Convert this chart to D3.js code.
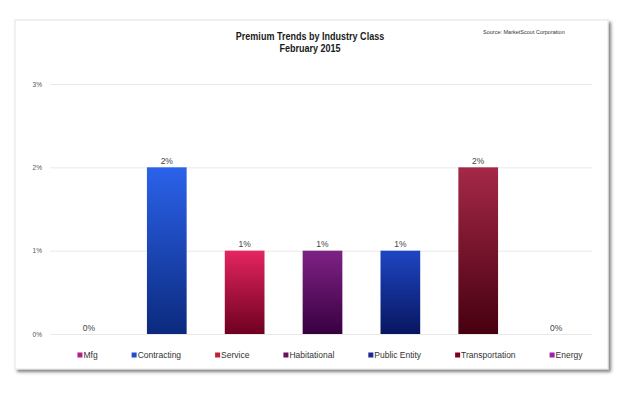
<!DOCTYPE html>
<html>
<head>
<meta charset="utf-8">
<script src="https://cdn.jsdelivr.net/npm/d3@7"></script>
<style>
  body { margin: 0; background: #fff; }
  svg { display: block; }
</style>
</head>
<body>
<script>
// Data
var categories = ["Mfg", "Contracting", "Service", "Habitational", "Public Entity", "Transportation", "Energy"];
var values = [0, 2, 1, 1, 1, 2, 0];
var valueLabels = ["0%", "2%", "1%", "1%", "1%", "2%", "0%"];
var yTicks = [0, 1, 2, 3];
var titleLines = ["Premium Trends by Industry Class", "February 2015"];
var sourceText = "Source: MarketScout Corporation";

// colours: [top, bottom] of each bar gradient, legend swatch
var gradTop = ["#c02a90", "#2b62ea", "#e42560", "#7e2286", "#1e45c2", "#a52848", "#b030b0"];
var gradBottom = ["#701050", "#0b2a7e", "#6e0020", "#380040", "#081660", "#460010", "#701070"];
var swatch = ["#b0208c", "#1f4fd0", "#c0203c", "#6a1060", "#1a2a90", "#800020", "#a020a8"];

var W = 625, H = 394;
var svg = d3.select("body").append("svg")
    .attr("width", W)
    .attr("height", H);

var defs = svg.append("defs");
var shadow = defs.append("filter").attr("id", "shadow")
    .attr("x", "-5%").attr("y", "-5%").attr("width", "110%").attr("height", "115%");
shadow.append("feDropShadow")
    .attr("dx", 2.5).attr("dy", 2.5).attr("stdDeviation", 1.5)
    .attr("flood-color", "#000").attr("flood-opacity", 0.5);

categories.forEach(function(c, i) {
    var lg = defs.append("linearGradient").attr("id", "g" + i)
        .attr("x1", 0).attr("y1", 0).attr("x2", 0).attr("y2", 1);
    lg.append("stop").attr("offset", "0%").attr("stop-color", gradTop[i]);
    lg.append("stop").attr("offset", "100%").attr("stop-color", gradBottom[i]);
});

// frame
svg.append("rect")
    .attr("x", 15).attr("y", 20)
    .attr("width", 593).attr("height", 349)
    .attr("fill", "#fff")
    .attr("stroke", "#e4e4e4")
    .attr("stroke-width", 1)
    .attr("filter", "url(#shadow)");

// scales
var x = d3.scaleBand()
    .domain(categories)
    .range([50, 595])
    .paddingInner(0.49)
    .paddingOuter(0.245);

var y = d3.scaleLinear()
    .domain([0, 3])
    .range([334, 84]);

// gridlines
svg.append("g").selectAll("line")
    .data(yTicks)
    .enter()
    .append("line")
    .attr("x1", 50)
    .attr("x2", 592)
    .attr("y1", d => y(d) + 0.5)
    .attr("y2", d => y(d) + 0.5)
    .attr("stroke", "#e9e9e9");

// y axis
var yAxis = d3.axisLeft(y)
    .tickValues(yTicks)
    .tickSize(0)
    .tickPadding(0)
    .tickFormat(d => d + "%");

var ya = svg.append("g")
    .attr("transform", "translate(42,0)")
    .call(yAxis);
ya.select(".domain").remove();
ya.selectAll("text")
    .attr("font-family", "Liberation Sans, sans-serif")
    .attr("font-size", 6.5)
    .attr("fill", "#555");

// bars
svg.append("g").selectAll("rect")
    .data(values)
    .enter()
    .append("rect")
    .attr("x", (d, i) => x(categories[i]))
    .attr("y", d => y(d))
    .attr("width", x.bandwidth())
    .attr("height", d => y(0) - y(d))
    .attr("fill", (d, i) => "url(#g" + i + ")");

// value labels
svg.append("g").selectAll("text")
    .data(values)
    .enter()
    .append("text")
    .attr("x", (d, i) => x(categories[i]) + x.bandwidth() / 2)
    .attr("y", d => y(d) - 3.5)
    .attr("text-anchor", "middle")
    .attr("font-family", "Liberation Sans, sans-serif")
    .attr("font-size", 8.5)
    .attr("fill", "#444")
    .text((d, i) => valueLabels[i]);

// title (condensed horizontally to mimic the narrow face)
svg.append("g")
    .attr("transform", "translate(310,0) scale(0.86,1)")
    .append("text")
    .attr("y", 40)
    .attr("text-anchor", "middle")
    .attr("font-family", "Liberation Sans, sans-serif")
    .attr("font-weight", "bold")
    .attr("font-size", 10.5)
    .attr("fill", "#1a1a1a")
    .selectAll("tspan")
    .data(titleLines)
    .enter()
    .append("tspan")
    .attr("x", 0)
    .attr("dy", (d, i) => i ? 12 : 0)
    .text(d => d);

// source
svg.append("g")
    .attr("transform", "translate(483,0) scale(0.92,1)")
    .append("text")
    .attr("y", 34)
    .attr("font-family", "Liberation Sans, sans-serif")
    .attr("font-size", 6)
    .attr("fill", "#333")
    .text(sourceText);

// legend
var legend = svg.append("g").attr("transform", "translate(0,358)");
var items = legend.selectAll("g")
    .data(categories)
    .enter()
    .append("g");
items.append("rect")
    .attr("width", 5).attr("height", 5)
    .attr("y", -5.5)
    .attr("fill", (d, i) => swatch[i]);
items.append("text")
    .attr("x", 6)
    .attr("y", 0)
    .attr("font-family", "Liberation Sans, sans-serif")
    .attr("font-size", 8.5)
    .attr("fill", "#333")
    .text(d => d);

var gap = 34, pos = 0, starts = [];
items.each(function(d) {
    starts.push(pos);
    pos += 6 + d3.select(this).select("text").node().getComputedTextLength() + gap;
});
var total = pos - gap;
var left = 330 - total / 2;
items.attr("transform", (d, i) => "translate(" + (left + starts[i]) + ",0)");
</script>
</body>
</html>
